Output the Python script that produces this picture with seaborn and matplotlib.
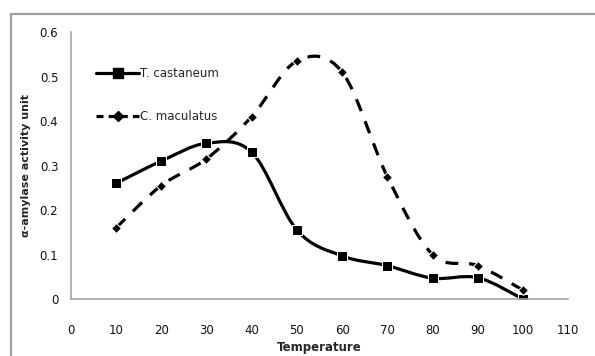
import numpy as np
import pandas as pd
import seaborn as sns
import matplotlib
matplotlib.use("Agg")
import matplotlib.pyplot as plt
from matplotlib.path import Path
from matplotlib.patches import PathPatch, Rectangle
from matplotlib.lines import Line2D

temperature = [10, 20, 30, 40, 50, 60, 70, 80, 90, 100]
t_castaneum = [0.26, 0.31, 0.35, 0.33, 0.155, 0.097, 0.075, 0.047, 0.048, 0.0]
c_maculatus = [0.16, 0.255, 0.315, 0.41, 0.535, 0.51, 0.275, 0.10, 0.075, 0.02]
x_ticks = [0, 10, 20, 30, 40, 50, 60, 70, 80, 90, 100, 110]
y_ticks = [0, 0.1, 0.2, 0.3, 0.4, 0.5, 0.6]
y_tick_labels = ["0", "0.1", "0.2", "0.3", "0.4", "0.5", "0.6"]

sns.set_theme(style="white")
plt.rcParams['font.family'] = ['DejaVu Sans']

fig = plt.figure(figsize=(5.95, 3.56), dpi=100)
ax = fig.add_axes([0.119, 0.160, 0.836, 0.750])


def smooth_path(xs, ys):
    pts = np.column_stack([xs, ys]).astype(float)
    n = len(pts)
    verts = [pts[0]]
    codes = [Path.MOVETO]
    for i in range(n - 1):
        p0 = pts[i - 1] if i > 0 else pts[i]
        p1 = pts[i]
        p2 = pts[i + 1]
        p3 = pts[i + 2] if i + 2 < n else pts[i + 1]
        c1 = p1 + (p2 - p0) / 6.0
        c2 = p2 - (p3 - p1) / 6.0
        verts += [c1, c2, p2]
        codes += [Path.CURVE4] * 3
    return Path(verts, codes)


df = pd.DataFrame({"Temperature": temperature,
                   "T. castaneum": t_castaneum,
                   "C. maculatus": c_maculatus})

lw = 2.3
ax.add_patch(PathPatch(smooth_path(temperature, t_castaneum), fill=False,
                       edgecolor="black", lw=lw, transform=ax.transData,
                       capstyle="butt", joinstyle="round"))
ax.add_patch(PathPatch(smooth_path(temperature, c_maculatus), fill=False,
                       edgecolor="black", lw=lw, linestyle=(0, (4.0, 3.4)),
                       transform=ax.transData, capstyle="butt"))

sns.lineplot(data=df, x="Temperature", y="T. castaneum", ax=ax, marker="s",
             markersize=7, color="black", linestyle="none", legend=False)
sns.lineplot(data=df, x="Temperature", y="C. maculatus", ax=ax, marker="D",
             markersize=5, color="black", linestyle="none", legend=False)

ax.set_xlim(0, 110)
ax.set_ylim(0, 0.6)
ax.set_xticks(x_ticks)
ax.set_xticklabels([str(v) for v in x_ticks])
ax.set_yticks(y_ticks)
ax.set_yticklabels(y_tick_labels)

for s in ["top", "right"]:
    ax.spines[s].set_visible(False)
for s in ["left", "bottom"]:
    ax.spines[s].set_color("#a6a6a6")
    ax.spines[s].set_linewidth(1.2)
ax.tick_params(axis="both", which="major", direction="out", length=5,
               width=1.2, color="#a6a6a6", labelsize=8.5, labelcolor="#111111")
ax.tick_params(axis="x", pad=13)
ax.tick_params(axis="y", pad=4)

ax.set_xlabel("Temperature", fontsize=8.5, fontweight="bold", labelpad=3)
ax.set_ylabel("α-amylase activity unit", fontsize=8, fontweight="bold", labelpad=6)

handles = [
    Line2D([0], [0], color="black", lw=lw, marker="s", markersize=7),
    Line2D([0], [0], color="black", lw=lw, linestyle=(0, (2.2, 1.6)),
           marker="D", markersize=5),
]
ax.legend(handles, ["T. castaneum", "C. maculatus"], loc="upper left",
          bbox_to_anchor=(0.03, 0.91), frameon=False, fontsize=8.5,
          handlelength=3.6, handletextpad=0.1, labelspacing=2.6)

fig.patches.append(Rectangle((11 / 595, -0.1), 2.0, (356 - 14) / 356 + 0.1,
                             transform=fig.transFigure, fill=False,
                             edgecolor="#a0a0a0", lw=1.6))

fig.savefig("out.png", dpi=100)
